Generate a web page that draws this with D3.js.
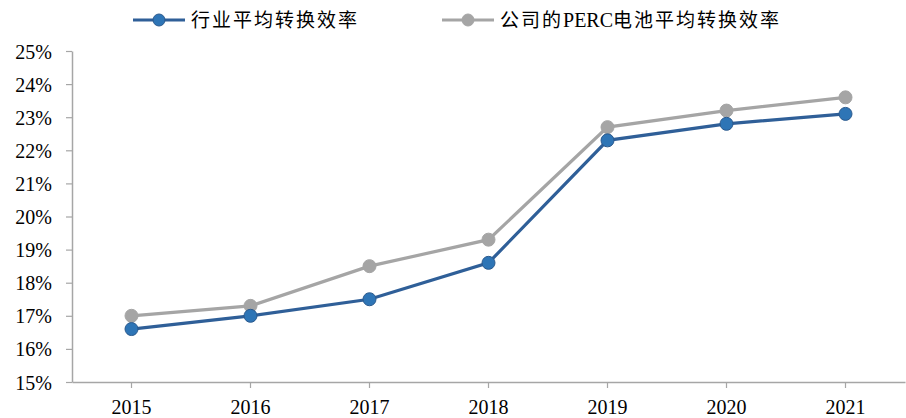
<!DOCTYPE html>
<html>
<head>
<meta charset="utf-8">
<script src="https://cdn.jsdelivr.net/npm/d3@7"></script>
<style>
  html, body { margin: 0; padding: 0; background: #fff; }
  svg text { font-family: "Liberation Serif", "Times New Roman", "Noto Sans CJK SC", serif; fill: #000; }
</style>
</head>
<body>
<svg id="chart" width="906" height="418"></svg>
<script>
// Years on the x axis
const years = ["2015", "2016", "2017", "2018", "2019", "2020", "2021"];
// Industry average conversion efficiency (%)
const industryAvg = [16.6, 17.0, 17.5, 18.6, 22.3, 22.8, 23.1];
// Company PERC cell average conversion efficiency (%)
const companyPerc = [17.0, 17.3, 18.5, 19.3, 22.7, 23.2, 23.6];
// Y axis ticks (%)
const yTicks = [15, 16, 17, 18, 19, 20, 21, 22, 23, 24, 25];
const seriesNames = ["行业平均转换效率", "公司的PERC电池平均转换效率"];

const svg = d3.select("#chart");
const margin = { left: 72, right: 1, top: 51, bottom: 36 };
const W = 906, H = 418;

const x = d3.scaleBand().domain(years).range([margin.left, W - margin.right]);
const y = d3.scaleLinear().domain([15, 25]).range([H - margin.bottom, margin.top]);

const axisColor = "#a6a6a6";

// Y axis
const yAxis = svg.append("g")
  .attr("transform", `translate(${margin.left},0)`)
  .call(d3.axisLeft(y).tickValues(yTicks).tickFormat(d => d + "%").tickSize(6).tickSizeOuter(0));
yAxis.select(".domain").attr("stroke", axisColor).attr("stroke-width", 1.5);
yAxis.selectAll(".tick line").attr("stroke", axisColor).attr("stroke-width", 1.2);
yAxis.selectAll(".tick text").attr("font-size", 20).attr("x", -20).attr("dy", "0.35em");

// X axis
const xAxis = svg.append("g")
  .attr("transform", `translate(0,${y(15)})`)
  .call(d3.axisBottom(x).tickSize(6).tickSizeOuter(0));
xAxis.select(".domain").attr("stroke", axisColor).attr("stroke-width", 1.5);
xAxis.selectAll(".tick line").attr("stroke", axisColor).attr("stroke-width", 1.2);
xAxis.selectAll(".tick text").attr("font-size", 20).attr("y", 18);

const cx = d => x(d) + x.bandwidth() / 2;
const line = d3.line().x((d, i) => cx(years[i])).y(d => y(d));

const series = [
  { name: seriesNames[1], values: companyPerc, line: "#a5a5a5", fill: "#a5a5a5", stroke: "#a5a5a5" },
  { name: seriesNames[0], values: industryAvg, line: "#2f5f98", fill: "#2e75b6", stroke: "#2b5a8e" }
];

series.forEach(s => {
  svg.append("path")
    .datum(s.values)
    .attr("d", line)
    .attr("fill", "none")
    .attr("stroke", s.line)
    .attr("stroke-width", 3.2);
  svg.append("g").selectAll("circle")
    .data(s.values)
    .join("circle")
    .attr("cx", (d, i) => cx(years[i]))
    .attr("cy", d => y(d))
    .attr("r", 6.5)
    .attr("fill", s.fill)
    .attr("stroke", s.stroke)
    .attr("stroke-width", 1);
});

// Legend: CJK runs get wider spacing, Latin runs stay tight
const legendItems = [
  { name: seriesNames[0], x: 133, line: "#2f5f98", fill: "#2e75b6", stroke: "#2b5a8e" },
  { name: seriesNames[1], x: 442, line: "#a5a5a5", fill: "#a5a5a5", stroke: "#a5a5a5" }
];
const legend = svg.append("g");
legendItems.forEach(it => {
  const g = legend.append("g").attr("transform", `translate(${it.x},20)`);
  g.append("line").attr("x1", 0).attr("x2", 52).attr("y1", 0).attr("y2", 0)
    .attr("stroke", it.line).attr("stroke-width", 3.2);
  g.append("circle").attr("cx", 26).attr("cy", 0).attr("r", 6)
    .attr("fill", it.fill).attr("stroke", it.stroke).attr("stroke-width", 1);
  const t = g.append("text").attr("x", 58).attr("y", 0).attr("dy", "0.35em")
    .attr("font-size", 19);
  const runs = it.name.match(/[A-Za-z0-9]+|[^A-Za-z0-9]+/g);
  runs.forEach(r => {
    const latin = /^[A-Za-z0-9]+$/.test(r);
    t.append("tspan")
      .attr("letter-spacing", latin ? 0 : 2)
      .attr("font-size", latin ? 20 : 19)
      .text(r);
  });
});
</script>
</body>
</html>
